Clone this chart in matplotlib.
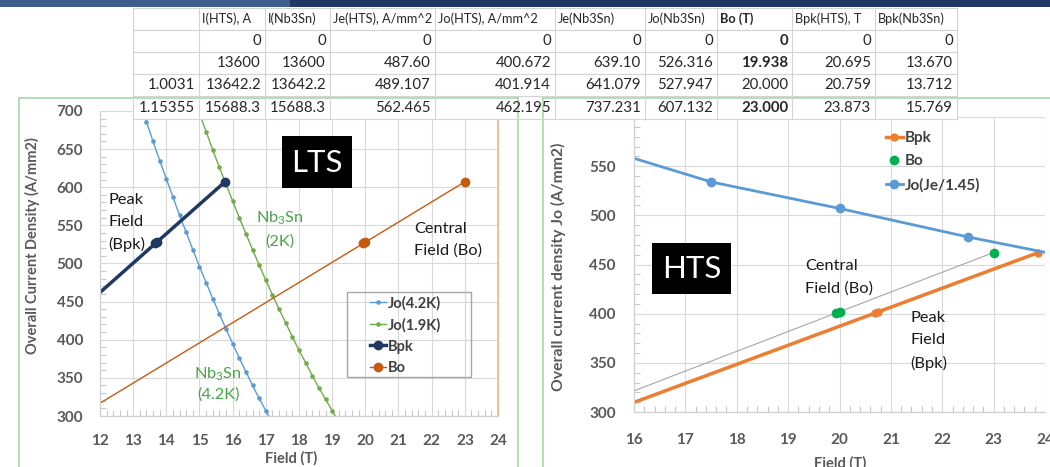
import matplotlib
matplotlib.use('Agg')
import matplotlib.pyplot as plt
from matplotlib.ticker import MultipleLocator
from matplotlib.patches import Rectangle

plt.rcParams['font.family'] = ['Lato', 'DejaVu Sans']
plt.rcParams['mathtext.default'] = 'regular'

# ---------------- data ----------------
table_headers = ['', 'I(HTS), A', 'I(Nb3Sn)', 'Je(HTS), A/mm^2', 'Jo(HTS), A/mm^2',
                 'Je(Nb3Sn)', 'Jo(Nb3Sn)', 'Bo (T)', 'Bpk(HTS), T', 'Bpk(Nb3Sn)']
row_labels = ['', '', '1.0031', '1.15355']
I_HTS = ['0', '13600', '13642.2', '15688.3']
I_Nb3Sn = ['0', '13600', '13642.2', '15688.3']
Je_HTS = ['0', '487.60', '489.107', '562.465']
Jo_HTS = ['0', '400.672', '401.914', '462.195']
Je_Nb3Sn = ['0', '639.10', '641.079', '737.231']
Jo_Nb3Sn = ['0', '526.316', '527.947', '607.132']
Bo_T = ['0', '19.938', '20.000', '23.000']
Bpk_HTS = ['0', '20.695', '20.759', '23.873']
Bpk_Nb3Sn = ['0', '13.670', '13.712', '15.769']
Bo_bold = [True, True, False, True]

# Nb3Sn Jo(B) curves (LTS chart)
field_42K = [13.2, 13.4, 13.6, 13.8, 14.0, 14.2, 14.4, 14.6, 14.8, 15.0, 15.2,
             15.4, 15.6, 15.8, 16.0, 16.2, 16.4, 16.6, 16.8, 17.0, 17.2]
jo_42K = [712, 686, 660, 635, 611, 587, 563, 541, 518, 496, 475,
          454, 434, 414, 395, 376, 358, 340, 323, 307, 291]
field_19K = [14.8, 15.0, 15.2, 15.4, 15.6, 15.8, 16.0, 16.2, 16.4, 16.6, 16.8, 17.0,
             17.2, 17.4, 17.6, 17.8, 18.0, 18.2, 18.4, 18.6, 18.8, 19.0, 19.2]
jo_19K = [722, 697, 673, 649, 626, 604, 582, 560, 539, 518, 498, 478,
          459, 440, 422, 404, 386, 370, 353, 337, 322, 307, 292]

# HTS Jo(B) curve
field_hts = [15.0, 17.5, 20.0, 22.5, 25.0]
jo_cap_hts = [574, 534, 507, 478, 452]

lts_yticks = [300, 350, 400, 450, 500, 550, 600, 650, 700]
hts_yticks = [300, 350, 400, 450, 500, 550, 600]
hts_ytick_labels = ['300', '350', '400', '450', '500', '550', '']  # 600 hidden under table

jo_nb3sn = [float(v) for v in Jo_Nb3Sn]
jo_hts = [float(v) for v in Jo_HTS]
bo_vals = [float(v) for v in Bo_T]
bpk_hts = [float(v) for v in Bpk_HTS]
bpk_nb3sn = [float(v) for v in Bpk_Nb3Sn]

# ---------------- figure ----------------
W, H = 1050, 467
fig = plt.figure(figsize=(W / 100, H / 100), dpi=100)
fig.patch.set_facecolor('white')


def axes_px(l, t, r, b, **kw):
    return fig.add_axes([l / W, 1 - b / H, (r - l) / W, (b - t) / H], **kw)


TICK_C = '#595959'


def style(ax, xpad, ypad):
    ax.grid(True, which='major', color='#D9D9D9', lw=0.8)
    ax.set_axisbelow(True)
    for s in ['top', 'right']:
        ax.spines[s].set_visible(False)
    for s in ['left', 'bottom']:
        ax.spines[s].set_color('#D0D0D0')
        ax.spines[s].set_linewidth(0.9)
    ax.xaxis.set_minor_locator(MultipleLocator(0.2))
    ax.yaxis.set_minor_locator(MultipleLocator(10))
    ax.tick_params(which='major', length=0, labelsize=11, labelcolor=TICK_C)
    ax.tick_params(which='minor', length=4, direction='in', color='#C8C8C8', width=0.8)
    ax.tick_params(axis='x', which='major', pad=xpad)
    ax.tick_params(axis='y', which='major', pad=ypad)
    for lab in ax.get_xticklabels() + ax.get_yticklabels():
        lab.set_fontweight('bold')


# ---- LTS chart ----
axL = axes_px(100, 111, 498, 416)
axL.set_xlim(12, 24)
axL.set_ylim(300, 700)
axL.set_xticks(range(12, 25))
axL.set_yticks(lts_yticks)
lL1, = axL.plot(field_42K, jo_42K, color='#5B9BD5', lw=1, marker='o', ms=2.3, label='Jo(4.2K)')
lL2, = axL.plot(field_19K, jo_19K, color='#70AD47', lw=1, marker='o', ms=2.3, label='Jo(1.9K)')
lL3, = axL.plot(bpk_nb3sn, jo_nb3sn, color='#203864', lw=2.5, marker='o', ms=6, label='Bpk')
lL4, = axL.plot(bo_vals, jo_nb3sn, color='#C55A11', lw=1, marker='o', ms=6, label='Bo')
style(axL, 13, 12)
axL.spines['right'].set_visible(True)
axL.spines['right'].set_color('#F4B183')
axL.spines['right'].set_linewidth(1.2)
legL = axL.legend(handles=[lL1, lL2, lL3, lL4], loc='upper left',
                  bbox_to_anchor=(370 / W, 1 - 296 / H), bbox_transform=fig.transFigure,
                  frameon=False, borderpad=0, borderaxespad=0, handlelength=1.1,
                  handletextpad=0.1, labelspacing=0.5,
                  prop={'size': 10.5, 'weight': 'bold'}, labelcolor='#404040')

# ---- HTS chart ----
axR = axes_px(634, 117, 1045, 412)
axR.set_xlim(16, 24)
axR.set_ylim(300, 600)
axR.set_xticks(range(16, 25))
axR.set_yticks(hts_yticks)
axR.set_yticklabels(hts_ytick_labels)
axR.plot(bo_vals, jo_hts, color='#A6A6A6', lw=0.8)
lR1, = axR.plot(bpk_hts, jo_hts, color='#ED7D31', lw=2.5, marker='o', ms=5, label='Bpk')
lR2, = axR.plot(bo_vals, jo_hts, ls='none', marker='o', ms=6, color='#00B050', label='Bo')
lR3, = axR.plot(field_hts, jo_cap_hts, color='#5B9BD5', lw=2, marker='o', ms=6, label='Jo(Je/1.45)')
style(axR, 15, 13)
legR = axR.legend(handles=[lR1, lR2, lR3], loc='upper left',
                  bbox_to_anchor=(886 / W, 1 - 131 / H), bbox_transform=fig.transFigure,
                  frameon=False, borderpad=0, borderaxespad=0, handlelength=1.1,
                  handletextpad=0.1, labelspacing=0.62,
                  prop={'size': 11, 'weight': 'bold'}, labelcolor='#404040')

# ---------------- overlay: frames, table, annotations ----------------
ov = fig.add_axes([0, 0, 1, 1], zorder=10)
ov.set_xlim(0, W)
ov.set_ylim(H, 0)
ov.axis('off')

FRAME = '#A9D8A9'
ov.add_patch(Rectangle((0, 0), W, 7, facecolor='#1F3864', edgecolor='none'))
ov.add_patch(Rectangle((0, 0), 290, 7, facecolor='#3E5C8C', edgecolor='none'))
# chart frames
ov.plot([19, 19], [98, H], color=FRAME, lw=1.2)
ov.plot([19, 518], [98, 98], color=FRAME, lw=1.2)
ov.plot([518, 518], [98, H], color=FRAME, lw=1.2)
ov.plot([543, 543], [98, H], color=FRAME, lw=1.2)
ov.plot([543, W], [98, 98], color=FRAME, lw=1.2)

# legend box (LTS)
ov.add_patch(Rectangle((347, 292), 124, 85, facecolor='none', edgecolor='#A6A6A6', lw=1))

# table
col_edges = [133, 199, 265, 330, 435, 555, 645, 717, 792, 875, 957]
row_edges = [8, 30, 52, 74, 96, 119]
columns = [row_labels, I_HTS, I_Nb3Sn, Je_HTS, Jo_HTS, Je_Nb3Sn, Jo_Nb3Sn, Bo_T, Bpk_HTS, Bpk_Nb3Sn]
ov.add_patch(Rectangle((col_edges[0], row_edges[0]), col_edges[-1] - col_edges[0],
                       row_edges[-1] - row_edges[0] + 1, facecolor='white', edgecolor='none'))
GRID = '#D4D4D4'
for y in row_edges:
    ov.plot([col_edges[0], col_edges[-1]], [y, y], color=GRID, lw=0.8)
for x in col_edges:
    ov.plot([x, x], [row_edges[0], row_edges[-1]], color=GRID, lw=0.8)
TXT = '#262626'
for ci, head in enumerate(table_headers):
    yc = (row_edges[0] + row_edges[1]) / 2
    ov.text(col_edges[ci] + 3, yc, head, ha='left', va='center', fontsize=9.2, color=TXT,
            fontweight='bold' if head == 'Bo (T)' else 'normal')
for ci, col in enumerate(columns):
    for ri, val in enumerate(col):
        yc = (row_edges[ri + 1] + row_edges[ri + 2]) / 2
        bold = (ci == 7 and Bo_bold[ri])
        ov.text(col_edges[ci + 1] - 4, yc, val, ha='right', va='center', fontsize=10.8,
                color=TXT, fontweight='bold' if bold else 'normal')

# axis titles
ov.text(32, 246, 'Overall Current Density (A/mm2)', rotation=90, ha='center', va='center',
        fontsize=10.5, fontweight='bold', color=TICK_C)
ov.text(291, 458, 'Field (T)', ha='center', va='center', fontsize=10.5, fontweight='bold', color=TICK_C)
ov.text(558, 267, 'Overall current density Jo (A/mm2)', rotation=90, ha='center', va='center',
        fontsize=11.3, fontweight='bold', color=TICK_C)
ov.text(840, 463, 'Field (T)', ha='center', va='center', fontsize=10.5, fontweight='bold', color=TICK_C)

# annotations
ANN = '#1A1A1A'
GRN = '#47A447'
FS = 11.8
for txt, y in [('Peak', 200), ('Field', 222), ('(Bpk)', 244)]:
    ov.text(108, y, txt, ha='left', va='center', fontsize=FS, color=ANN)
ov.text(280, 218, 'Nb$_3$Sn', ha='center', va='center', fontsize=FS, color=GRN)
ov.text(280, 242, '(2K)', ha='center', va='center', fontsize=FS, color=GRN)
ov.text(218, 374, 'Nb$_3$Sn', ha='center', va='center', fontsize=FS, color=GRN)
ov.text(218, 395, '(4.2K)', ha='center', va='center', fontsize=FS, color=GRN)
ov.text(414, 229, 'Central', ha='left', va='center', fontsize=FS, color=ANN)
ov.text(414, 251, 'Field (Bo)', ha='left', va='center', fontsize=FS, color=ANN)

ov.add_patch(Rectangle((282, 136), 70, 52, facecolor='black', edgecolor='none'))
ov.text(317, 163, 'LTS', ha='center', va='center', fontsize=22.5, color='white')

ov.add_patch(Rectangle((652, 243), 79, 51, facecolor='black', edgecolor='none'))
ov.text(691.5, 269, 'HTS', ha='center', va='center', fontsize=22.5, color='white')

ov.text(805, 266, 'Central', ha='left', va='center', fontsize=FS, color=ANN)
ov.text(805, 289, 'Field (Bo)', ha='left', va='center', fontsize=FS, color=ANN)
for txt, y in [('Peak', 318), ('Field', 340), ('(Bpk)', 363)]:
    ov.text(910, y, txt, ha='left', va='center', fontsize=FS, color=ANN)

fig.savefig('out.png', dpi=100)
